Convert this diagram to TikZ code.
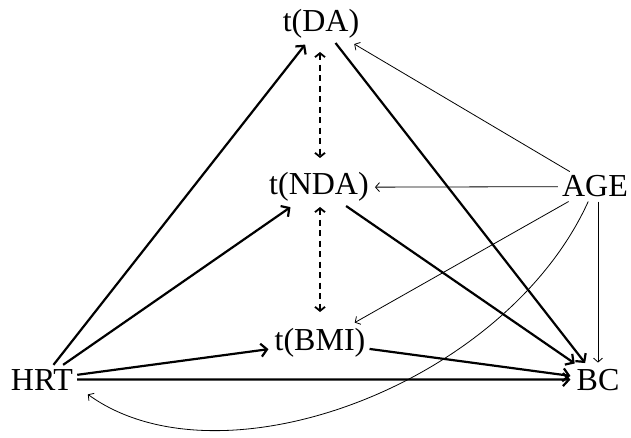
\documentclass[tikz,border=0pt]{standalone}
\usepackage{fontspec}
\setmainfont{Liberation Serif}
\usetikzlibrary{arrows.meta}
\begin{document}
\begin{tikzpicture}[x=1pt,y=-1pt,
  lbl/.style={font=\fontsize{32}{32}\selectfont, anchor=base, inner sep=4pt},
  thickarr/.style={line width=2.2pt, -{Straight Barb[length=6pt,width=13pt,line width=2.2pt]}, shorten >=2pt},
  thinarr/.style={line width=0.8pt, -{Straight Barb[length=4pt,width=9pt,line width=0.8pt]}, shorten >=2pt},
  dasharr/.style={line width=1.8pt, dash pattern=on 6pt off 4.5pt, {Straight Barb[length=4pt,width=10pt,line width=1.8pt]}-{Straight Barb[length=4pt,width=10pt,line width=1.8pt]}}
]
\useasboundingbox (0,0) rectangle (631,438);
\node[lbl] (tda) at (321,32) {t(DA)};
\node[lbl] (tnda) at (319,195) {t(NDA)};
\node[lbl] (tbmi) at (320,350) {t(BMI)};
\node[lbl] (hrt) at (42,390) {HRT};
\node[lbl] (bc) at (598,390) {BC};
\node[lbl] (age) at (595,197) {AGE};
\coordinate (d1) at (320,52);
\coordinate (d2) at (320,158);
\coordinate (d3) at (320,207);
\coordinate (d4) at (320,312);
\draw[dasharr] (d1) -- (d2);
\draw[dasharr] (d3) -- (d4);
\draw[thickarr] (hrt) -- (tda);
\draw[thickarr] (hrt) -- (tnda);
\draw[thickarr] (hrt) -- (tbmi);
\draw[thickarr] (hrt) -- (bc);
\draw[thickarr] (tda) -- (bc);
\draw[thickarr] (tnda) -- (bc);
\draw[thickarr] (tbmi) -- (bc);
\draw[thinarr] (age) -- (tda);
\draw[thinarr] (age) -- (tnda);
\draw[thinarr] (age) -- (tbmi);
\draw[thinarr] (age.south -| bc) -- (bc.north);
\coordinate (hrtend) at ([xshift=9pt,yshift=1pt]hrt.south east);
\draw[thinarr] (age) .. controls (505,385) and (220,490) .. (hrtend);
\end{tikzpicture}
\end{document}
